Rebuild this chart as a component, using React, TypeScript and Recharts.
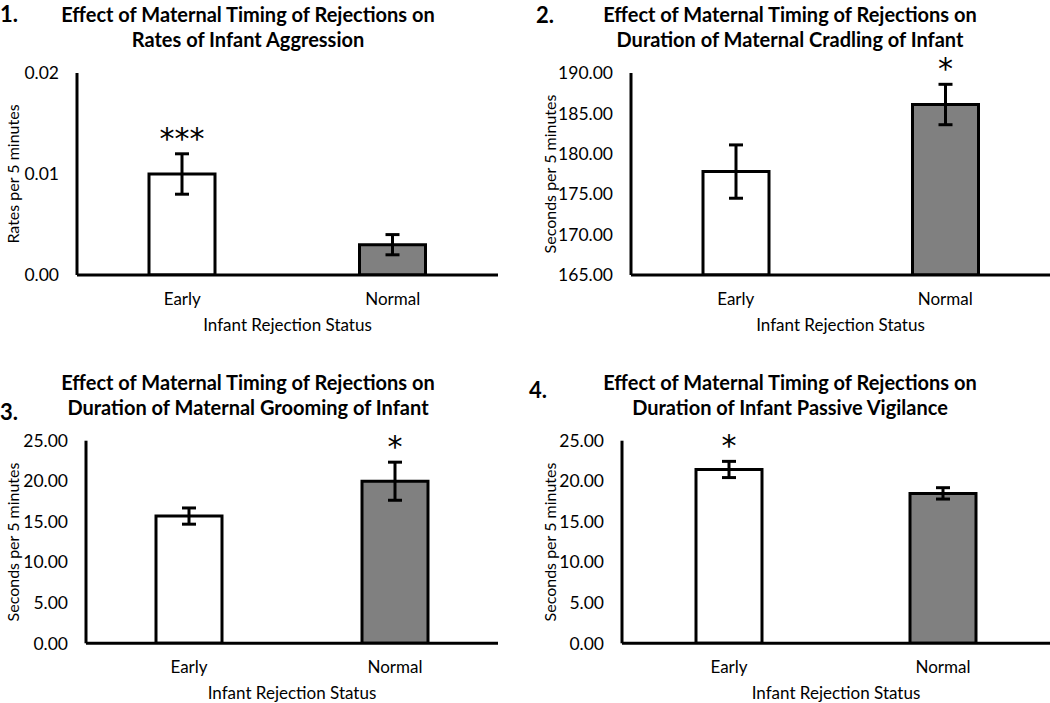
import { BarChart, Bar, XAxis, YAxis, ErrorBar, Cell, LabelList, Label } from "recharts";

const categories = ["Early", "Normal"];
const barColors = ["#ffffff", "#808080"];

const aggressionMeans = [0.01, 0.003];
const aggressionErr = [0.002, 0.001];
const aggressionSig = ["***", ""];
const aggressionTicks = [0, 0.01, 0.02];

const cradlingMeans = [177.8, 186.1];
const cradlingErr = [3.3, 2.5];
const cradlingSig = ["", "*"];
const cradlingTicks = [165, 170, 175, 180, 185, 190];

const groomingMeans = [15.7, 20.0];
const groomingErr = [1.0, 2.35];
const groomingSig = ["", "*"];

const vigilanceMeans = [21.45, 18.5];
const vigilanceErr = [1.0, 0.7];
const vigilanceSig = ["*", ""];

const durationTicks = [0, 5, 10, 15, 20, 25];

const FONT = "Lato, 'Open Sans', sans-serif";
const AXIS_H = 60;

interface PanelProps {
  left: number;
  top: number;
  width: number;
  height: number;
  axisX: number;
  plotTop: number;
  baseline: number;
  plotRight: number;
  yLabelX: number;
  means: number[];
  errs: number[];
  sig: string[];
  ticks: number[];
  yLabel: string;
}

function Panel(p: PanelProps) {
  const data = categories.map((name, i) => ({ name, value: p.means[i], err: p.errs[i], sig: p.sig[i] }));
  const domainMin = p.ticks[0];
  const domainMax = p.ticks[p.ticks.length - 1];

  // star sits just above the error bar cap
  const renderStar = (props: any) => {
    const { x, y, width, height, value, index } = props;
    if (!value) return null;
    const unit = height / (p.means[index] - domainMin);
    const errTop = y - p.errs[index] * unit;
    return (
      <text
        x={x + width / 2}
        y={errTop - 5}
        textAnchor="middle"
        fontSize={30}
        fill="#000"
        fontFamily="'DejaVu Sans', sans-serif"
      >
        {value}
      </text>
    );
  };

  return (
    <div style={{ position: "absolute", left: p.left, top: p.top }}>
      <BarChart
        width={p.width}
        height={p.height}
        data={data}
        margin={{ top: p.plotTop, right: p.width - p.plotRight, left: 0, bottom: p.height - p.baseline - AXIS_H }}
        style={{ fontFamily: FONT }}
      >
        <XAxis
          dataKey="name"
          height={AXIS_H}
          axisLine={{ stroke: "#000", strokeWidth: 3 }}
          tickLine={false}
          tickSize={0}
          tickMargin={18}
          tick={{ fill: "#000", fontSize: 17 }}
        >
          <Label value="Infant Rejection Status" position="insideBottom" offset={4} fill="#000" fontSize={17} />
        </XAxis>
        <YAxis
          width={p.axisX}
          domain={[domainMin, domainMax]}
          ticks={p.ticks}
          allowDataOverflow
          axisLine={{ stroke: "#000", strokeWidth: 3 }}
          tickLine={false}
          tickSize={0}
          tickMargin={18}
          tick={{ fill: "#000", fontSize: 17.5 }}
          tickFormatter={(v: number) => v.toFixed(2)}
        >
          <Label
            value={p.yLabel}
            angle={-90}
            position="insideLeft"
            offset={p.yLabelX}
            fill="#000"
            fontSize={16}
            style={{ textAnchor: "middle" }}
          />
        </YAxis>
        <Bar dataKey="value" barSize={66} stroke="#000" strokeWidth={3} isAnimationActive={false}>
          {data.map((d, i) => (
            <Cell key={`cell-${d.name}`} fill={barColors[i]} />
          ))}
          <ErrorBar dataKey="err" width={7} stroke="#000" strokeWidth={3} />
          <LabelList dataKey="sig" content={renderStar} />
        </Bar>
      </BarChart>
    </div>
  );
}

function Title({ cx, top, lines }: { cx: number; top: number; lines: string[] }) {
  return (
    <div
      style={{
        position: "absolute",
        left: cx - 260,
        top,
        width: 520,
        textAlign: "center",
        fontFamily: FONT,
        fontWeight: 700,
        fontSize: 20,
        lineHeight: "25.5px",
        whiteSpace: "nowrap",
      }}
    >
      {lines.map((l) => (
        <div key={l}>{l}</div>
      ))}
    </div>
  );
}

function Num({ x, y, text }: { x: number; y: number; text: string }) {
  return (
    <div
      style={{
        position: "absolute",
        left: x,
        top: y,
        fontFamily: FONT,
        fontWeight: 700,
        fontSize: 22,
        lineHeight: "26px",
      }}
    >
      {text}
    </div>
  );
}

export default function App() {
  const heading = "Effect of Maternal Timing of Rejections on";
  return (
    <div style={{ position: "relative", width: 1050, height: 703, background: "#fff", overflow: "hidden" }}>
      <style>{`body{margin:0}`}</style>
      <Panel
        left={0}
        top={0}
        width={525}
        height={340}
        axisX={77}
        plotTop={73}
        baseline={275}
        plotRight={498}
        yLabelX={13}
        means={aggressionMeans}
        errs={aggressionErr}
        sig={aggressionSig}
        ticks={aggressionTicks}
        yLabel="Rates per 5 minutes"
      />
      <Panel
        left={525}
        top={0}
        width={525}
        height={340}
        axisX={106}
        plotTop={73}
        baseline={275}
        plotRight={525}
        yLabelX={25}
        means={cradlingMeans}
        errs={cradlingErr}
        sig={cradlingSig}
        ticks={cradlingTicks}
        yLabel="Seconds per 5 minutes"
      />
      <Panel
        left={0}
        top={340}
        width={525}
        height={363}
        axisX={86}
        plotTop={100.7}
        baseline={303.3}
        plotRight={498}
        yLabelX={13}
        means={groomingMeans}
        errs={groomingErr}
        sig={groomingSig}
        ticks={durationTicks}
        yLabel="Seconds per 5 minutes"
      />
      <Panel
        left={525}
        top={340}
        width={525}
        height={363}
        axisX={97}
        plotTop={100.7}
        baseline={303.3}
        plotRight={525}
        yLabelX={25}
        means={vigilanceMeans}
        errs={vigilanceErr}
        sig={vigilanceSig}
        ticks={durationTicks}
        yLabel="Seconds per 5 minutes"
      />
      <Title cx={248} top={1.5} lines={[heading, "Rates of Infant Aggression"]} />
      <Title cx={790} top={1.5} lines={[heading, "Duration of Maternal Cradling of Infant"]} />
      <Title cx={248} top={369.5} lines={[heading, "Duration of Maternal Grooming of Infant"]} />
      <Title cx={790} top={369.5} lines={[heading, "Duration of Infant Passive Vigilance"]} />
      <Num x={0} y={1} text="1." />
      <Num x={536} y={2} text="2." />
      <Num x={0} y={399} text="3." />
      <Num x={529} y={377} text="4." />
    </div>
  );
}
